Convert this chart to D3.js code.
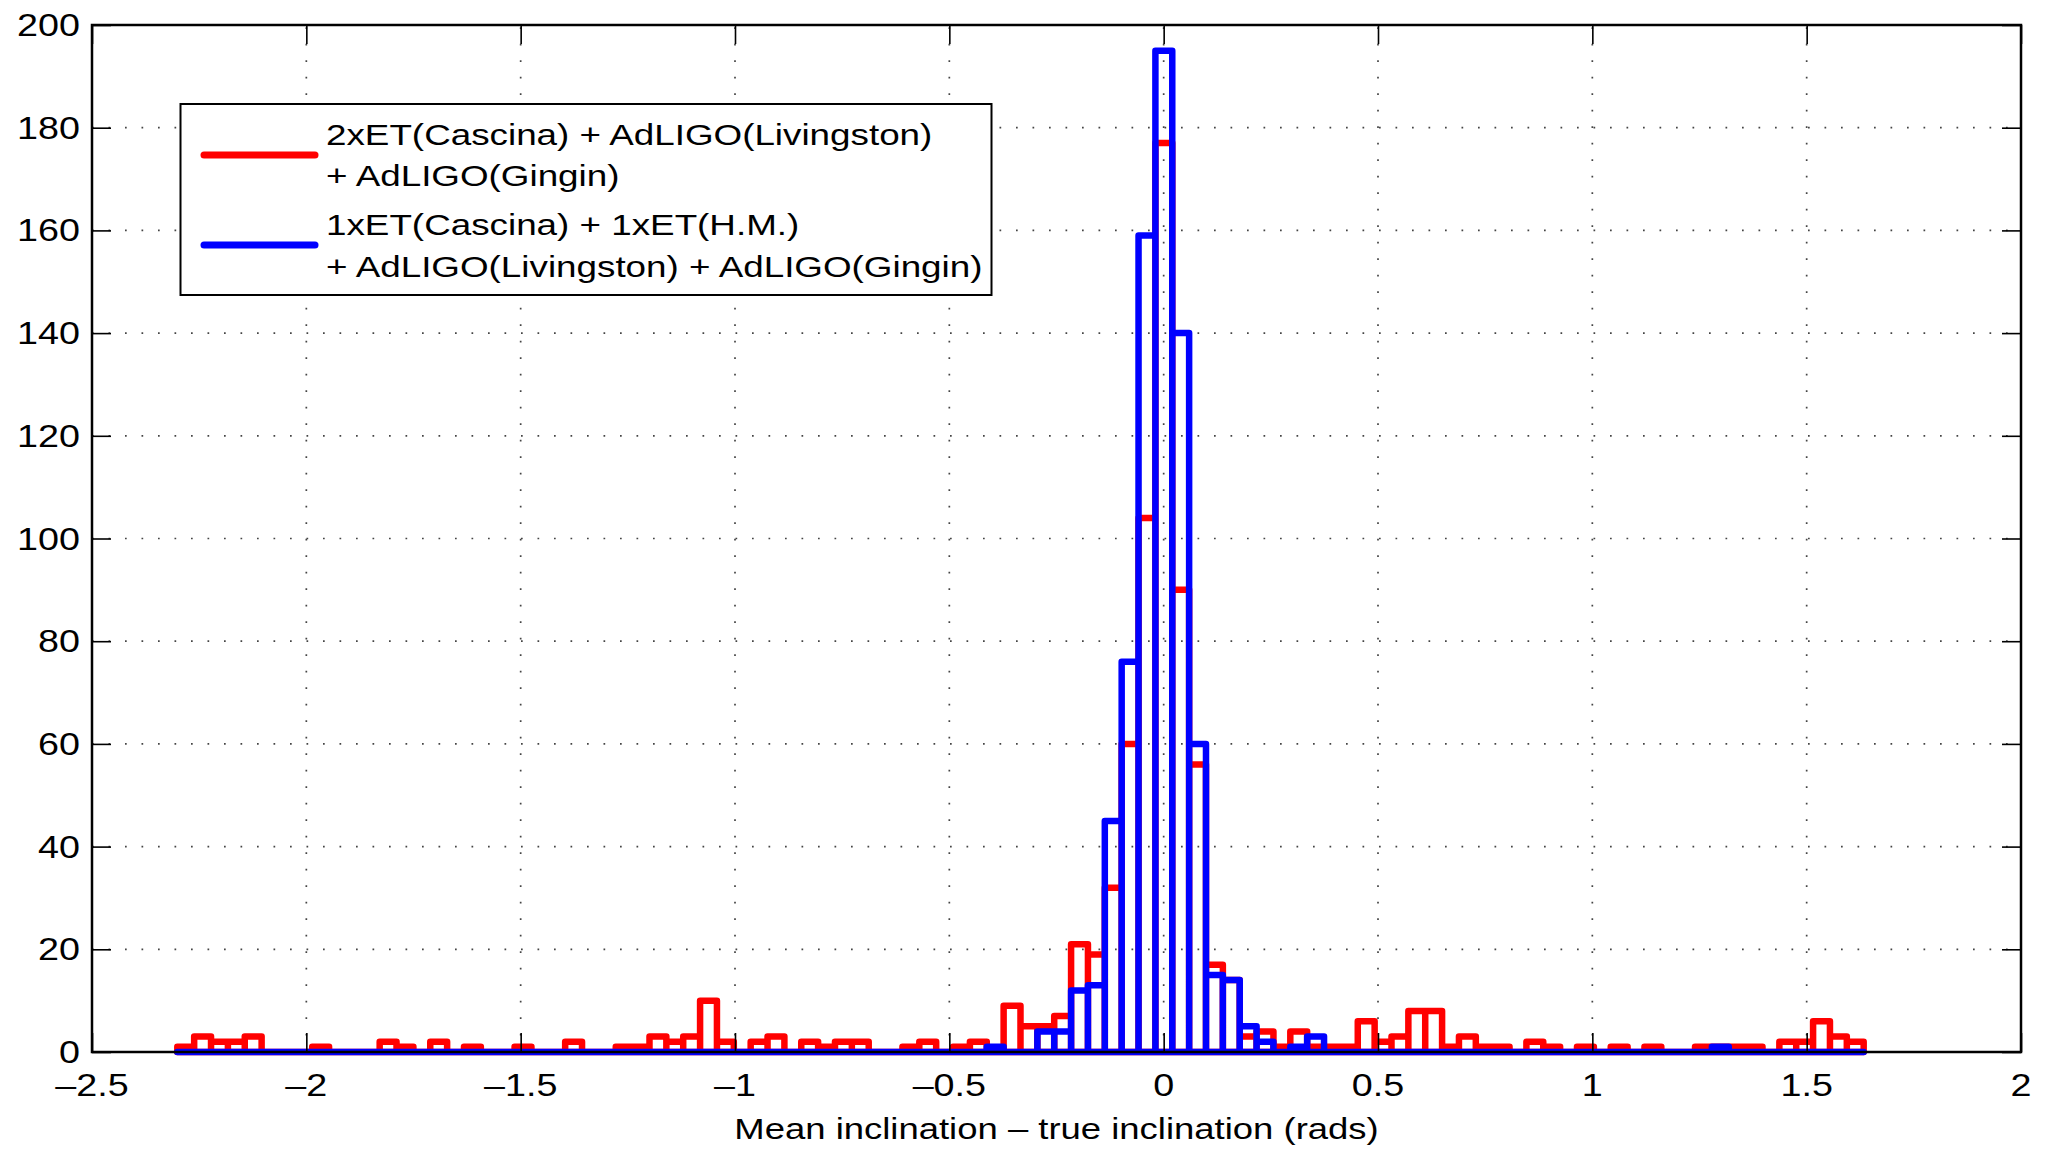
<!DOCTYPE html>
<html>
<head>
<meta charset="utf-8">
<script src="https://cdn.jsdelivr.net/npm/d3@7"></script>
<style>
  html, body { margin: 0; padding: 0; background: #fff; }
  svg { display: block; }
  text { font-family: "Liberation Sans", Arial, Helvetica, sans-serif; fill: #000; }
</style>
</head>
<body>
<div id="chart"></div>
<script>
// histogram: 100 equal bins between these edges (rads), counts
const binLo = -2.301, binHi = 1.633;

const countsTwoET = [
  1, 3, 2, 2, 3, 0, 0, 0, 1, 0,
  0, 0, 2, 1, 0, 2, 0, 1, 0, 0,
  1, 0, 0, 2, 0, 0, 1, 1, 3, 2,
  3, 10, 2, 0, 2, 3, 0, 2, 1, 2,
  2, 0, 0, 1, 2, 0, 1, 2, 0, 9,
  5, 5, 7, 21, 19, 32, 60, 104, 177, 90,
  56, 17, 14, 3, 4, 1, 4, 1, 1, 1,
  6, 2, 3, 8, 8, 1, 3, 1, 1, 0,
  2, 1, 0, 1, 0, 1, 0, 1, 0, 0,
  1, 1, 1, 1, 0, 2, 2, 6, 3, 2
];

const countsOneET = [
  0, 0, 0, 0, 0, 0, 0, 0, 0, 0,
  0, 0, 0, 0, 0, 0, 0, 0, 0, 0,
  0, 0, 0, 0, 0, 0, 0, 0, 0, 0,
  0, 0, 0, 0, 0, 0, 0, 0, 0, 0,
  0, 0, 0, 0, 0, 0, 0, 0, 1, 0,
  0, 4, 4, 12, 13, 45, 76, 159, 195, 140,
  60, 15, 14, 5, 2, 0, 1, 3, 0, 0,
  0, 0, 0, 0, 0, 0, 0, 0, 0, 0,
  0, 0, 0, 0, 0, 0, 0, 0, 0, 0,
  0, 1, 0, 0, 0, 0, 0, 0, 0, 0
];

const xTicks = [-2.5, -2, -1.5, -1, -0.5, 0, 0.5, 1, 1.5, 2];
const xTickLabels = ["\u20132.5", "\u20132", "\u20131.5", "\u20131", "\u20130.5", "0", "0.5", "1", "1.5", "2"];
const yTicks = [0, 20, 40, 60, 80, 100, 120, 140, 160, 180, 200];

const seriesNames = [
  ["2xET(Cascina) + AdLIGO(Livingston)", "+ AdLIGO(Gingin)"],
  ["1xET(Cascina) + 1xET(H.M.)", "+ AdLIGO(Livingston) + AdLIGO(Gingin)"]
];
const seriesColors = ["#ff0000", "#0000ff"];
const xTitle = "Mean inclination \u2013 true inclination (rads)";

const W = 2047, H = 1149;
const plot = {left: 92, right: 2021, top: 25, bottom: 1052};
const sx = 1.216; // the figure's text is stretched sideways

const svg = d3.select("#chart").append("svg")
  .attr("width", W).attr("height", H);

const x = d3.scaleLinear().domain([-2.5, 2]).range([plot.left, plot.right]);
const y = d3.scaleLinear().domain([0, 200]).range([plot.bottom, plot.top]);

// dotted grid
const grid = svg.append("g")
  .attr("stroke", "#444").attr("stroke-width", 1.7)
  .attr("stroke-dasharray", "1.7,14.8");
grid.selectAll(".gx").data(xTicks.slice(1, -1)).enter().append("line")
  .attr("x1", d => x(d)).attr("x2", d => x(d))
  .attr("y1", plot.bottom).attr("y2", plot.top);
grid.selectAll(".gy").data(yTicks.slice(1, -1)).enter().append("line")
  .attr("x1", plot.left).attr("x2", plot.right)
  .attr("y1", d => y(d)).attr("y2", d => y(d));

// histogram outlines
const nBins = countsTwoET.length;
const edges = d3.range(nBins + 1).map(i => binLo + (binHi - binLo) * i / nBins);

function histPath(counts) {
  const p = d3.path();
  p.moveTo(x(edges[0]), y(0));
  p.lineTo(x(edges[nBins]), y(0));
  counts.forEach((c, i) => {
    p.moveTo(x(edges[i]), y(0));
    p.lineTo(x(edges[i]), y(c));
    p.lineTo(x(edges[i + 1]), y(c));
    p.lineTo(x(edges[i + 1]), y(0));
  });
  return p.toString();
}

[countsTwoET, countsOneET].forEach((counts, k) => {
  svg.append("path")
    .attr("d", histPath(counts))
    .attr("fill", "none")
    .attr("stroke", seriesColors[k])
    .attr("stroke-width", 6.5)
    .attr("stroke-linejoin", "round")
    .attr("stroke-linecap", "round");
});

// ticks on all four sides, pointing inward
const tickLen = 19;
svg.append("g").attr("transform", `translate(0,${plot.bottom})`)
  .call(d3.axisBottom(x).tickValues(xTicks).tickSize(-tickLen).tickFormat(""));
svg.append("g").attr("transform", `translate(0,${plot.top})`)
  .call(d3.axisTop(x).tickValues(xTicks).tickSize(-tickLen).tickFormat(""));
svg.append("g").attr("transform", `translate(${plot.left},0)`)
  .call(d3.axisLeft(y).tickValues(yTicks).tickSize(-tickLen).tickFormat(""));
svg.append("g").attr("transform", `translate(${plot.right},0)`)
  .call(d3.axisRight(y).tickValues(yTicks).tickSize(-tickLen).tickFormat(""));
svg.selectAll(".domain").remove();
svg.selectAll(".tick line").attr("stroke", "#000").attr("stroke-width", 1.6);

svg.append("rect")
  .attr("x", plot.left).attr("y", plot.top)
  .attr("width", plot.right - plot.left).attr("height", plot.bottom - plot.top)
  .attr("fill", "none").attr("stroke", "#000").attr("stroke-width", 2.5);

// tick labels
svg.selectAll(".xl").data(xTicks).enter().append("text")
  .attr("transform", d => `translate(${x(d)},1096) scale(${sx},1)`)
  .attr("text-anchor", "middle")
  .style("font-size", "31px")
  .text((d, i) => xTickLabels[i]);

svg.selectAll(".yl").data(yTicks).enter().append("text")
  .attr("transform", d => `translate(80,${y(d) + 11}) scale(${sx},1)`)
  .attr("text-anchor", "end")
  .style("font-size", "31px")
  .text(d => d);

svg.append("text")
  .attr("transform", `translate(${(plot.left + plot.right) / 2},1139) scale(${sx},1)`)
  .attr("text-anchor", "middle")
  .style("font-size", "30px")
  .text(xTitle);

// legend
const legend = svg.append("g");
legend.append("rect")
  .attr("x", 180.5).attr("y", 104).attr("width", 811).attr("height", 191)
  .attr("fill", "#fff").attr("stroke", "#000").attr("stroke-width", 2);

const legendRows = [{lineY: 155, baselines: [145, 186]}, {lineY: 245, baselines: [235, 277]}];
legendRows.forEach((row, k) => {
  legend.append("line")
    .attr("x1", 204).attr("x2", 315)
    .attr("y1", row.lineY).attr("y2", row.lineY)
    .attr("stroke", seriesColors[k]).attr("stroke-width", 7)
    .attr("stroke-linecap", "round");
  seriesNames[k].forEach((s, j) => {
    legend.append("text")
      .attr("transform", `translate(326,${row.baselines[j]}) scale(1.227,1)`)
      .style("font-size", "30px")
      .text(s);
  });
});
</script>
</body>
</html>
